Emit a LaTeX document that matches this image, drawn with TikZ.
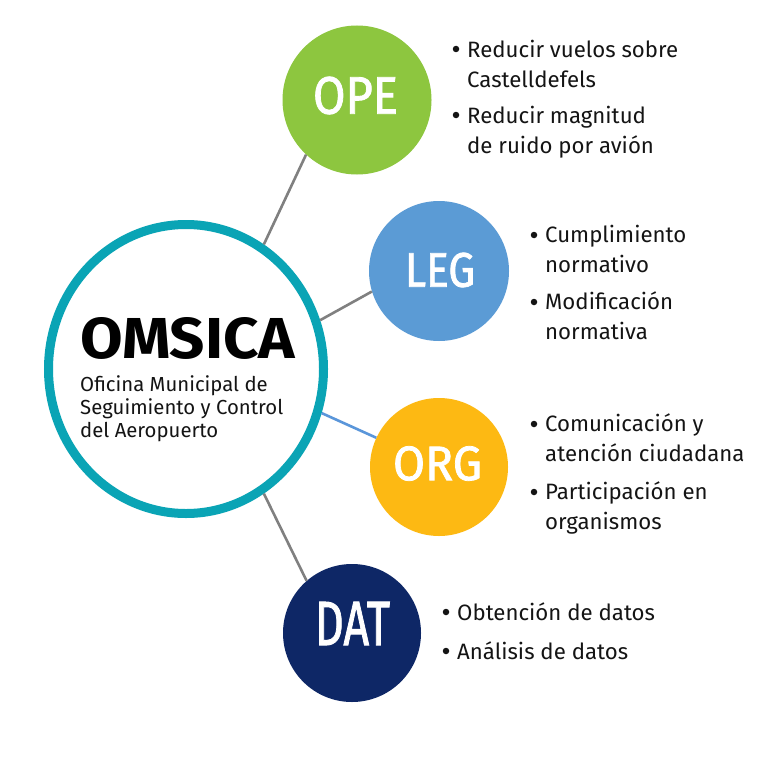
\documentclass[tikz,border=0pt]{standalone}
\usepackage{fontspec}
\setmainfont{Fira Sans}
\newfontfamily\labfont[FakeBold=1.6]{Fira Sans}
\usepackage{graphicx}
\usetikzlibrary{shapes.geometric}
\definecolor{cTeal}{HTML}{0AA4B5}
\definecolor{cGreen}{HTML}{8DC63F}
\definecolor{cBlue}{HTML}{5B9BD5}
\definecolor{cYellow}{HTML}{FDB913}
\definecolor{cNavy}{HTML}{0E2766}
\definecolor{cGray}{HTML}{808080}
\definecolor{cLine}{HTML}{5A96DA}
\definecolor{cTxt}{HTML}{141414}
\tikzset{
  hub/.style={ellipse, draw=cTeal, line width=9bp, fill=white, minimum width=275bp, minimum height=289bp, inner sep=0pt},
  sat/.style={circle, inner sep=0pt},
  lbl/.style={inner sep=0pt, text=white, font=\labfont},
  link/.style={line width=2.6bp, draw=cGray},
  item/.style={anchor=base west, align=left, inner sep=0pt, font=\fontsize{22.3}{30}\selectfont, text=cTxt},
  dot/.style={circle, fill=cTxt, inner sep=0pt, minimum size=6.5bp},
  sub/.style={anchor=base west, align=left, inner sep=0pt, font=\fontsize{20.4}{23}\selectfont, text=cTxt}
}
\begin{document}
\begin{tikzpicture}[x=1bp,y=-1bp]
\useasboundingbox (0,0) rectangle (768,768);
\fill[white] (0,0) rectangle (768,768);
% circles
\node[hub] (hub) at (186,369) {};
\node[sat, fill=cGreen, minimum size=149bp] (ope) at (357,100) {};
\node[sat, fill=cBlue, minimum size=140bp] (leg) at (439,271) {};
\node[sat, fill=cYellow, minimum size=138bp] (org) at (439,467) {};
\node[sat, fill=cNavy, minimum size=138bp] (dat) at (352,633) {};
% connectors
\draw[link] (hub.58.6) -- (ope.227.7);
\draw[link] (hub.20.8) -- (leg.197.6);
\draw[link, draw=cLine] (hub.-18.7) -- (org.155.6);
\draw[link] (hub.-58.9) -- (dat.131);
% circle labels
\node[lbl] (opel) at (355.5,95.5) {\resizebox{85bp}{37bp}{OPE}};
\node[lbl] (legl) at (440,270) {\resizebox{70bp}{34bp}{LEG}};
\node[lbl] (orgl) at (437.5,463.5) {\resizebox{89bp}{34bp}{ORG}};
\node[lbl] (datl) at (352.5,623.5) {\resizebox{75bp}{43bp}{DAT}};
% hub text
\node[anchor=base west, inner sep=0pt, text=black, font=\bfseries] (title) at (80,358) {\resizebox{215bp}{41bp}{OMSICA}};
\node[sub] (subt) at (80,437) {Oficina Municipal de\\Seguimiento y Control\\del Aeropuerto};
% OPE items
\node[dot] (ob1) at (456,49) {};
\node[item] (ot1) at (467,87) {Reducir vuelos sobre\\Castelldefels};
\node[dot] (ob2) at (456,115) {};
\node[item] (ot2) at (467,153) {Reducir magnitud\\de ruido por avión};
% LEG items
\node[dot] (lb1) at (534,235) {};
\node[item] (lt1) at (545,272) {Cumplimiento\\normativo};
\node[dot] (lb2) at (534,302) {};
\node[item] (lt2) at (545,339) {Modificación\\normativa};
% ORG items
\node[dot] (gb1) at (534,424) {};
\node[item] (gt1) at (545,461) {Comunicación y\\atención ciudadana};
\node[dot] (gb2) at (534,492) {};
\node[item] (gt2) at (545,529) {Participación en\\organismos};
% DAT items
\node[dot] (db1) at (446,612) {};
\node[item] (dt1) at (457,620) {Obtención de datos};
\node[dot] (db2) at (446,651) {};
\node[item] (dt2) at (457,659) {Análisis de datos};
\end{tikzpicture}
\end{document}
